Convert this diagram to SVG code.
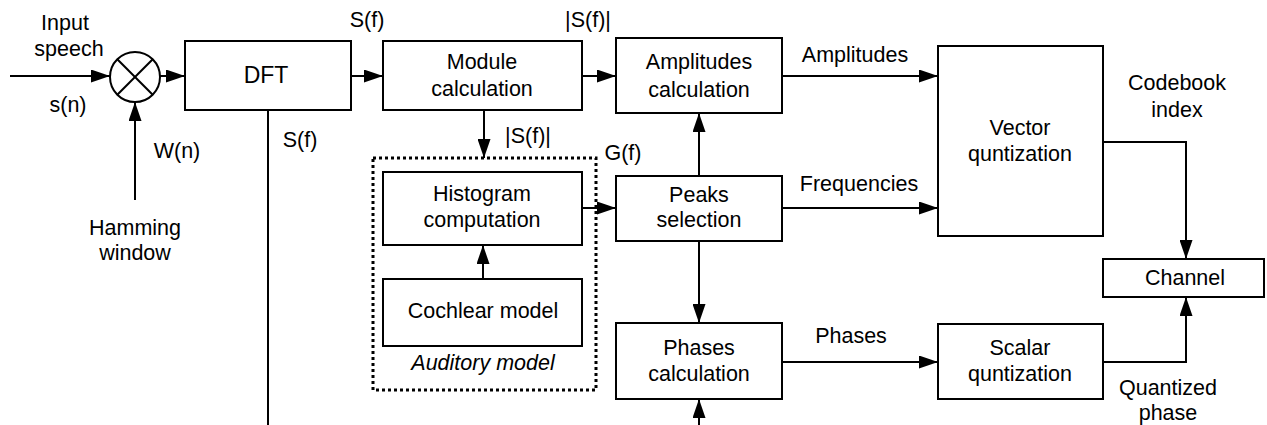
<svg xmlns="http://www.w3.org/2000/svg" width="1267" height="425" viewBox="0 0 1267 425">
<style>
text{font-family:"Liberation Sans",Arial,sans-serif;font-size:21.5px;fill:#000;text-anchor:middle}
.box{fill:#fff;stroke:#000;stroke-width:2}
.ln{fill:none;stroke:#000;stroke-width:2}
.arr{marker-end:url(#ah)}
.it{font-style:italic}
</style>
<defs>
<marker id="ah" markerUnits="userSpaceOnUse" markerWidth="19" markerHeight="13" refX="19" refY="6.5" orient="auto">
<path d="M0,0 L19,6.5 L0,13 z" fill="#000"/>
</marker>
</defs>
<rect width="1267" height="425" fill="#fff"/>
<g id="connectors">
<line class="ln arr" x1="10" y1="76" x2="110" y2="76"/>
<line class="ln arr" x1="160" y1="76" x2="185" y2="76"/>
<line class="ln arr" x1="135" y1="200" x2="135" y2="102"/>
<line class="ln arr" x1="351" y1="76" x2="383" y2="76"/>
<line class="ln" x1="268" y1="110" x2="268" y2="425"/>
<line class="ln arr" x1="582" y1="76" x2="616" y2="76"/>
<line class="ln arr" x1="484" y1="110" x2="484" y2="158"/>
<line class="ln arr" x1="582" y1="208" x2="616" y2="208"/>
<line class="ln arr" x1="483" y1="279" x2="483" y2="245"/>
<line class="ln arr" x1="699" y1="176" x2="699" y2="113"/>
<line class="ln arr" x1="699" y1="241" x2="699" y2="323"/>
<line class="ln arr" x1="699" y1="425" x2="699" y2="399"/>
<line class="ln arr" x1="782" y1="76" x2="938" y2="76"/>
<line class="ln arr" x1="782" y1="208" x2="938" y2="208"/>
<line class="ln arr" x1="782" y1="362" x2="938" y2="362"/>
<polyline class="ln arr" points="1103,142 1186,142 1186,259"/>
<polyline class="ln arr" points="1103,362 1186,362 1186,297"/>
</g>
<g id="multiplier">
<circle cx="135" cy="77" r="25" fill="#fff" stroke="#000" stroke-width="2"/>
<line class="ln" x1="117.3" y1="59.3" x2="152.7" y2="94.7"/>
<line class="ln" x1="152.7" y1="59.3" x2="117.3" y2="94.7"/>
</g>
<g id="dft"><rect class="box" x="185" y="41" width="166" height="69"/><text x="266" y="83" style="font-size:23px">DFT</text></g>
<g id="module"><rect class="box" x="383" y="41" width="199" height="69"/><text x="482" y="69">Module</text><text x="482" y="96">calculation</text></g>
<g id="amplitudes"><rect class="box" x="616" y="38" width="166" height="75"/><text x="699" y="69">Amplitudes</text><text x="699" y="97">calculation</text></g>
<g id="auditory">
<rect x="373" y="158" width="223" height="232" fill="none" stroke="#000" stroke-width="3" stroke-dasharray="3,3"/>
<text class="it" x="483" y="370">Auditory model</text>
</g>
<g id="histogram"><rect class="box" x="383" y="172" width="199" height="73"/><text x="482" y="201">Histogram</text><text x="482" y="227">computation</text></g>
<g id="cochlear"><rect class="box" x="383" y="279" width="199" height="67"/><text x="483" y="318">Cochlear model</text></g>
<g id="peaks"><rect class="box" x="616" y="176" width="166" height="65"/><text x="699" y="202">Peaks</text><text x="699" y="227">selection</text></g>
<g id="phases"><rect class="box" x="616" y="323" width="166" height="76"/><text x="699" y="355">Phases</text><text x="699" y="381">calculation</text></g>
<g id="vector"><rect class="box" x="938" y="46" width="165" height="190"/><text x="1020" y="135">Vector</text><text x="1020" y="161">quntization</text></g>
<g id="scalar"><rect class="box" x="938" y="324" width="165" height="75"/><text x="1020" y="355">Scalar</text><text x="1020" y="381">quntization</text></g>
<g id="channel"><rect class="box" x="1103" y="259" width="161" height="38"/><text x="1185" y="285">Channel</text></g>
<g id="labels">
<text x="65" y="30">Input</text>
<text x="69" y="56">speech</text>
<text x="68" y="112">s(n)</text>
<text x="177" y="158">W(n)</text>
<text x="135" y="235">Hamming</text>
<text x="135" y="260">window</text>
<text x="300" y="147">S(f)</text>
<text x="367" y="27">S(f)</text>
<text x="588" y="27">|S(f)|</text>
<text x="528" y="143">|S(f)|</text>
<text x="623" y="160">G(f)</text>
<text x="855" y="62">Amplitudes</text>
<text x="859" y="191">Frequencies</text>
<text x="1177" y="90">Codebook</text>
<text x="1177" y="117">index</text>
<text x="851" y="343">Phases</text>
<text x="1168" y="395">Quantized</text>
<text x="1168" y="420">phase</text>
</g>
</svg>
